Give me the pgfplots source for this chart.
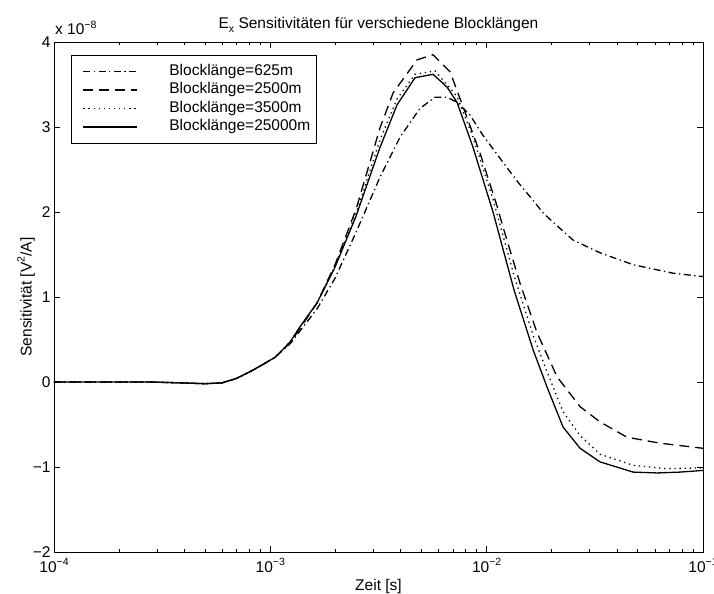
\documentclass[border=0pt]{standalone}
\usepackage{fontspec}
\setmainfont{Liberation Sans}
\usepackage{pgfplots}
\pgfplotsset{compat=1.18}
\usepackage{pgfplotstable}

% main text size of the figure
\newcommand\figfont{\fontsize{15.5bp}{18.5bp}\selectfont}
% raised / lowered small text for exponents and indices
\newcommand\sps[1]{\raisebox{0.45em}{\fontsize{10.5bp}{12bp}\selectfont #1}}
\newcommand\sbs[1]{\raisebox{-0.32em}{\fontsize{10.5bp}{12bp}\selectfont #1}}

% sensitivity (in units of 1e-8 V^2/A) over time in s
\pgfplotstableread{
t v
1e-4 0
2.02e-4 0
2.78e-4 0
3.82e-4 -0.01
4.99e-4 -0.02
5.98e-4 -0.01
6.94e-4 0.04
8.05e-4 0.12
9.15e-4 0.2
1.051e-3 0.29
1.234e-3 0.45
1.372e-3 0.6
1.644e-3 0.86
1.991e-3 1.22
2.489e-3 1.76
3.214e-3 2.41
3.977e-3 2.88
4.922e-3 3.22
5.773e-3 3.35
6.559e-3 3.35
7.296e-3 3.29
8.38e-3 3.14
9.625e-3 2.9
1.243e-2 2.52
1.427e-2 2.32
1.587e-2 2.18
1.823e-2 1.99
2.028e-2 1.88
2.508e-2 1.67
3.343e-2 1.52
4.752e-2 1.38
7.275e-2 1.28
1e-1 1.24
}\blockA

\pgfplotstableread{
t v
1e-4 0
2.02e-4 0
2.78e-4 0
3.82e-4 -0.01
4.99e-4 -0.02
5.98e-4 -0.01
6.94e-4 0.04
8.05e-4 0.12
9.15e-4 0.2
1.051e-3 0.29
1.234e-3 0.46
1.372e-3 0.63
1.644e-3 0.93
1.991e-3 1.38
2.489e-3 2.03
3.214e-3 2.99
3.693e-3 3.4
4.767e-3 3.79
5.652e-3 3.85
6.773e-3 3.65
7.777e-3 3.24
9.322e-3 2.69
1.117e-2 2.07
1.191e-2 1.82
1.427e-2 1.16
1.71e-2 0.58
2.116e-2 0.06
2.703e-2 -0.29
3.343e-2 -0.47
4.459e-2 -0.65
6.334e-2 -0.72
1e-1 -0.78
}\blockB

\pgfplotstableread{
t v
1e-4 0
2.02e-4 0
2.78e-4 0
3.82e-4 -0.01
4.99e-4 -0.02
5.98e-4 -0.01
6.94e-4 0.04
8.05e-4 0.12
9.15e-4 0.2
1.051e-3 0.29
1.234e-3 0.47
1.372e-3 0.65
1.644e-3 0.93
1.991e-3 1.36
2.489e-3 1.98
3.214e-3 2.85
3.853e-3 3.33
4.667e-3 3.62
5.773e-3 3.66
7.296e-3 3.36
8.651e-3 2.88
1.07e-2 2.15
1.339e-2 1.25
1.639e-2 0.55
1.902e-2 0.12
2.255e-2 -0.35
2.703e-2 -0.63
3.343e-2 -0.85
4.752e-2 -0.98
6.823e-2 -1.02
1e-1 -1.01
}\blockC

\pgfplotstableread{
t v
1e-4 0
2.02e-4 0
2.78e-4 0
3.82e-4 -0.01
4.99e-4 -0.02
5.98e-4 -0.01
6.94e-4 0.04
8.05e-4 0.12
9.15e-4 0.2
1.051e-3 0.29
1.234e-3 0.47
1.372e-3 0.65
1.644e-3 0.93
1.991e-3 1.35
2.489e-3 1.95
3.214e-3 2.76
3.853e-3 3.26
4.667e-3 3.58
5.652e-3 3.62
6.559e-3 3.47
7.296e-3 3.29
8.651e-3 2.76
1.07e-2 2.0
1.339e-2 1.08
1.639e-2 0.38
1.902e-2 -0.06
2.255e-2 -0.53
2.703e-2 -0.78
3.343e-2 -0.94
4.752e-2 -1.06
6.135e-2 -1.07
7.836e-2 -1.06
1e-1 -1.04
}\blockD

\begin{document}
\begin{tikzpicture}[font=\figfont]
\useasboundingbox (-54bp,-42bp) rectangle (660bp,552bp);
\begin{axis}[
  name=ax,
  scale only axis,
  width=649bp, height=510bp,
  xmode=log,
  xmin=1e-4, xmax=1e-1,
  ymin=-2, ymax=4,
  xtick={1e-4,1e-3,1e-2,1e-1},
  xticklabels={10\sps{−4},10\sps{−3},10\sps{−2},10\sps{−1}},
  minor xtick={2e-4,3e-4,4e-4,5e-4,6e-4,7e-4,8e-4,9e-4,
               2e-3,3e-3,4e-3,5e-3,6e-3,7e-3,8e-3,9e-3,
               2e-2,3e-2,4e-2,5e-2,6e-2,7e-2,8e-2,9e-2},
  ytick={-2,-1,0,1,2,3,4},
  yticklabels={−2,−1,0,1,2,3,4},
  tick label style={font=\figfont},
  xticklabel style={yshift=-3bp},
  tick align=inside,
  major tick length=6bp,
  minor tick length=3bp,
  every tick/.style={black, line width=0.8bp},
  axis line style={black, line width=0.9bp},
  xlabel={Zeit [s]},
  ylabel={Sensitivität [V\sps{2}/A]},
  label style={font=\figfont},
  xlabel style={at={(axis description cs:0.5,0)}, anchor=center, yshift=-34bp},
  ylabel style={at={(axis description cs:0,0.5)}, anchor=center, yshift=28bp},
  title={E\sbs{x} Sensitivitäten für verschiedene Blocklängen},
  title style={font=\figfont, at={(axis description cs:0.5,1)}, anchor=base, yshift=8bp, inner sep=0pt},
  legend cell align=left,
  legend style={at={(rel axis cs:0,1)}, anchor=north west,
    xshift=17bp, yshift=-13bp, draw=black, line width=0.8bp,
    font=\figfont,
    inner xsep=5bp, inner ysep=7bp,
    nodes={inner xsep=1bp, inner ysep=2bp, text height=11bp, text depth=3.5bp, anchor=west}},
  legend image code/.code={
    \path[draw=none, fill=none] (-7bp,-1bp) rectangle (85bp,1bp);
    \draw[#1] (0bp,0bp) -- (54bp,0bp);
  },
]
\addplot[black, line width=1.3bp, dash pattern=on 7bp off 3.5bp on 1.3bp off 3.5bp] table[x=t, y=v] {\blockA};
\addlegendentry{Blocklänge=625m}
\addplot[black, line width=1.3bp, dash pattern=on 10bp off 6bp] table[x=t, y=v] {\blockB};
\addlegendentry{Blocklänge=2500m}
\addplot[black, line width=1.3bp, dash pattern=on 1.3bp off 3.8bp] table[x=t, y=v] {\blockC};
\addlegendentry{Blocklänge=3500m}
\addplot[black, line width=1.3bp] table[x=t, y=v] {\blockD};
\addlegendentry{Blocklänge=25000m}
\end{axis}
\node[anchor=base west, inner sep=0pt, xshift=1bp, yshift=7bp] at (ax.north west) {x 10\sps{−8}};
\end{tikzpicture}
\end{document}
